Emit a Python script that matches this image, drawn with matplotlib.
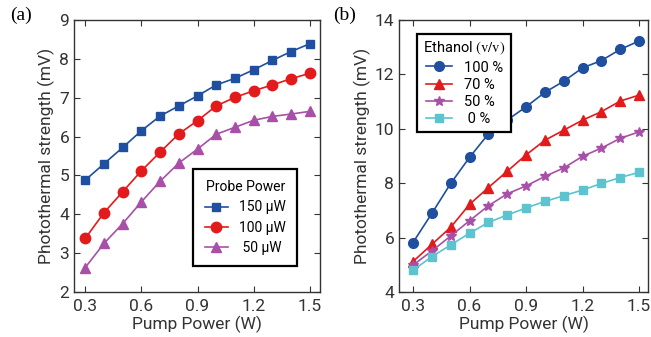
import matplotlib.pyplot as plt

plt.rcParams['font.family'] = ['Roboto', 'DejaVu Sans']
plt.rcParams['mathtext.fontset'] = 'stix'

pump = [0.3, 0.4, 0.5, 0.6, 0.7, 0.8, 0.9, 1.0, 1.1, 1.2, 1.3, 1.4, 1.5]

# panel (a): probe power
p150 = [4.88, 5.30, 5.72, 6.15, 6.53, 6.79, 7.05, 7.33, 7.50, 7.72, 7.96, 8.19, 8.39]
p100 = [3.38, 4.04, 4.58, 5.12, 5.60, 6.07, 6.41, 6.79, 7.01, 7.18, 7.33, 7.49, 7.63]
p50 = [2.63, 3.25, 3.76, 4.32, 4.85, 5.32, 5.68, 6.06, 6.24, 6.42, 6.52, 6.58, 6.65]
probe_labels = ['150 \u03bcW', '100 \u03bcW', ' 50 \u03bcW']

# panel (b): ethanol concentration
e100 = [5.82, 6.89, 7.99, 8.95, 9.81, 10.32, 10.81, 11.34, 11.75, 12.24, 12.51, 12.92, 13.23]
e70 = [5.12, 5.75, 6.38, 7.22, 7.84, 8.44, 9.04, 9.58, 9.95, 10.32, 10.63, 11.02, 11.24]
e50 = [4.99, 5.51, 6.06, 6.62, 7.17, 7.61, 7.90, 8.25, 8.56, 8.99, 9.29, 9.65, 9.89]
e0 = [4.80, 5.30, 5.73, 6.16, 6.56, 6.83, 7.09, 7.33, 7.54, 7.75, 7.99, 8.21, 8.40]
eth_labels = ['100 %', '70 %', '50 %', ' 0 %']

blue = '#1f4f9e'
red = '#e31a1c'
purple = '#a84fa8'
cyan = '#5cc3cf'

fig = plt.figure(figsize=(6.51, 3.37), dpi=100)
ax1 = fig.add_axes([0.1137, 0.1335, 0.378, 0.807])
ax2 = fig.add_axes([0.613, 0.1335, 0.3825, 0.807])

ax1.plot(pump, p150, '-s', color=blue, ms=5.5, lw=1.2, label=probe_labels[0])
ax1.plot(pump, p100, '-o', color=red, ms=7.5, lw=1.2, label=probe_labels[1])
ax1.plot(pump, p50, '-^', color=purple, ms=7.5, lw=1.2, label=probe_labels[2])
ax1.set_ylim(2, 9)
ax1.set_xlim(0.24, 1.555)
leg1 = ax1.legend(title='Probe Power', loc='lower right', bbox_to_anchor=(0.935, 0.07),
                  fontsize=10, title_fontsize=10, fancybox=False, edgecolor='black',
                  framealpha=1, handlelength=1.7, borderpad=0.8, labelspacing=0.45)
leg1.get_frame().set_linewidth(1.6)

ax2.plot(pump, e100, '-o', color=blue, ms=7, lw=1.2, label=eth_labels[0])
ax2.plot(pump, e70, '-^', color=red, ms=7.5, lw=1.2, label=eth_labels[1])
ax2.plot(pump, e50, '-*', color=purple, ms=7.5, lw=1.2, label=eth_labels[2])
ax2.plot(pump, e0, '-s', color=cyan, ms=5.5, lw=1.2, label=eth_labels[3])
ax2.set_ylim(4, 14)
ax2.set_xlim(0.226, 1.548)
ax2.set_yticks([4, 6, 8, 10, 12, 14])
leg2 = ax2.legend(title=r'Ethanol $\mathrm{(v/v)}$', loc='upper left', bbox_to_anchor=(0.044, 0.975),
                  fontsize=10.5, title_fontsize=10.5, fancybox=False, edgecolor='black',
                  framealpha=1, handlelength=1.8, borderpad=0.4, labelspacing=0.22)
leg2.get_frame().set_linewidth(1.6)

for ax in (ax1, ax2):
    ax.set_xticks([0.3, 0.6, 0.9, 1.2, 1.5])
    ax.set_xticklabels(['0.3', '0.6', '0.9', '1.2', '1.5'])
    ax.tick_params(direction='in', top=True, right=True, labelsize=12.5, colors='#333333',
                   length=4, width=0.8)
    ax.tick_params(axis='x', pad=5)
    for s in ax.spines.values():
        s.set_color('#333333')
        s.set_linewidth(1.0)
    ax.set_xlabel('Pump Power (W)', fontsize=12.5, color='#333333', labelpad=1)
    ax.set_ylabel('Photothermal strength (mV)', fontsize=12.5, color='#333333', labelpad=3)

fig.text(0.015, 0.955, '(a)', fontsize=14, family='Liberation Serif', va='center')
fig.text(0.512, 0.955, '(b)', fontsize=14, family='Liberation Serif', va='center')

fig.savefig('out.png', dpi=100)
